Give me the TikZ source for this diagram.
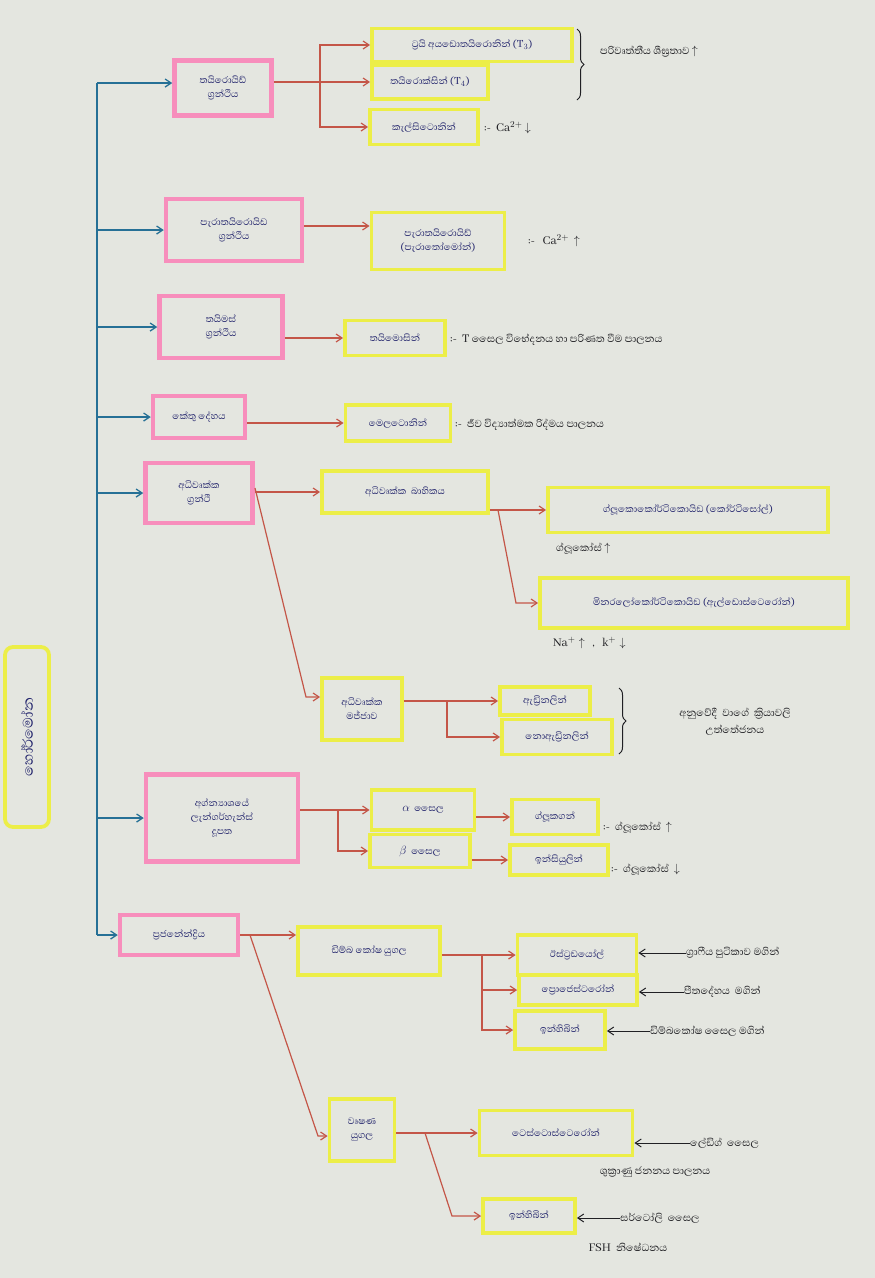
\documentclass[tikz,border=0pt]{standalone}
\usepackage{fontspec}
\setmainfont[Script=Sinhala]{Abhaya Libre}
\usetikzlibrary{arrows.meta,decorations.pathreplacing}
\definecolor{paper}{RGB}{228,230,224}
\definecolor{pinkc}{RGB}{247,142,188}
\definecolor{yelc}{RGB}{236,238,72}
\definecolor{redc}{RGB}{196,86,72}
\definecolor{bluec}{RGB}{38,112,150}
\definecolor{inkc}{RGB}{34,36,108}
\definecolor{notec}{RGB}{32,32,36}
\tikzset{
  pbox/.style={draw=pinkc, line width=4.5pt, fill=paper, align=center, inner sep=2pt, text=inkc, font=\fontsize{12}{14}\selectfont},
  ybox/.style={draw=yelc, line width=3.8pt, fill=paper, align=center, inner sep=2pt, text=inkc, font=\fontsize{12}{14}\selectfont},
  rar/.style={draw=redc, line width=1.2pt, -{Straight Barb[length=6pt,width=8pt]}},
  rln/.style={draw=redc, line width=1.2pt},
  bar/.style={draw=bluec, line width=1.3pt, -{Straight Barb[length=6pt,width=8pt]}},
  karr/.style={draw=notec, line width=1pt, -{Straight Barb[length=6pt,width=8pt]}},
  note/.style={text=notec, font=\fontsize{13}{17}\selectfont, inner sep=0pt, anchor=west},
  notec/.style={text=notec, font=\fontsize{13}{17}\selectfont, inner sep=0pt, align=center},
  brc/.style={draw=notec, line width=1pt, decorate, decoration={brace, amplitude=7pt}}
}
\begin{document}
\begin{tikzpicture}[x=1pt,y=-1pt]
\fill[paper] (0,0) rectangle (875,1278);
\useasboundingbox (0,0) rectangle (875,1278);

% title
\node[ybox, rotate=90, minimum width=180, minimum height=44, rounded corners=8pt, font=\fontsize{18}{20}\selectfont] (title) at (27,737) {හෝර්මෝන};

% level 1 (pink)
\node[pbox, minimum width=97, minimum height=55] (thy) at (223,88) {තයිරොයිඩ්\\ග්‍රන්ථිය};
\node[pbox, minimum width=136, minimum height=62] (pth) at (234,230) {පැරාතයිරොයිඩ\\ග්‍රන්ථිය};
\node[pbox, minimum width=123, minimum height=62] (thm) at (221,327) {තයිමස්\\ග්‍රන්ථිය};
\node[pbox, minimum width=92, minimum height=42] (pin) at (199,417) {කේතු දේහය};
\node[pbox, minimum width=107, minimum height=60] (adr) at (199,493) {අධිවෘක්ක\\ග්‍රන්ථි};
\node[pbox, minimum width=152, minimum height=87] (pan) at (222,818) {අග්න්‍යාශයේ\\ලැන්ගර්හැන්ස්\\දූපත};
\node[pbox, minimum width=118, minimum height=40] (rep) at (179,935) {ප්‍රජනේන්ද්‍රිය};

% blue trunk
\coordinate (trT) at (97,83);
\coordinate (trB) at (97,935);
\draw[draw=bluec, line width=1.3pt] (trT) -- (trB);
\draw[bar] (trT) -- (trT -| thy.west);
\foreach \n in {pth,thm,pin,adr,pan,rep} {\draw[bar] (trT |- \n.west) -- (\n.west);}

% thyroid
\node[ybox, minimum width=200, minimum height=33] (t3) at (472,45) {ට්‍රයි අයඩොතයිරොනින් (T$_3$)};
\node[ybox, minimum width=116, minimum height=34] (t4) at (430,82) {තයිරොක්සින් (T$_4$)};
\node[ybox, minimum width=108, minimum height=35] (cal) at (424,127) {කැල්සිටොනින්};
\coordinate (j1) at (320,82);
\draw[rar] (thy.east |- t4.west) -- (t4.west);
\draw[rar] (j1) |- (t3.west);
\draw[rar] (j1) |- (cal.west);
\draw[brc] (577,29) -- (577,100);
\node[note] (n1) at (600,52) {පරිවෘත්තීය ශීඝ්‍රතාව $\uparrow$};
\node[note] (n2) at (484,128) {:-\ \ Ca$^{2+}$ $\downarrow$};

% parathyroid
\node[ybox, minimum width=133, minimum height=57] (pthh) at (438,241) {පැරාතයිරොයිඩ්\\(පැරාතෝමෝන්)};
\draw[rar] (pth.east |- 0,226) -- (pthh.west |- 0,226);
\node[note] (n3) at (528,241) {:-\ \ \ Ca$^{2+}$ \ $\uparrow$};

% thymus
\node[ybox, minimum width=100, minimum height=35] (thmh) at (395,338) {තයිමොසින්};
\draw[rar] (thm.east |- thmh.west) -- (thmh.west);
\node[note] (n4) at (450,340) {:-\ \ T සෛල විභේදනය හා පරිණත වීම පාලනය};

% pineal
\node[ybox, minimum width=105, minimum height=36] (mel) at (398,423) {මෙලටොනින්};
\draw[rar] (pin.east |- mel.west) -- (mel.west);
\node[note] (n5) at (455,425) {:-\ \ ජීව විද්‍යාත්මක රිද්මය පාලනය};

% adrenal
\node[ybox, minimum width=166, minimum height=42] (ctx) at (405,492) {අධිවෘක්ක \ බාහිකය};
\node[ybox, minimum width=280, minimum height=45] (glc) at (688,510) {ග්ලූකොකෝර්ටිකොයිඩ (කෝර්ටිසෝල්)};
\node[ybox, minimum width=308, minimum height=50] (min) at (694,603) {මිනරලෝකෝර්ටිකොයිඩ (ඇල්ඩොස්ටෙරෝන්)};
\draw[rar] (adr.east |- ctx.west) -- (ctx.west);
\draw[rar] (ctx.east |- glc.west) -- (glc.west);
\coordinate (j3) at (498,510);
\coordinate (j3b) at (516,603);
\draw[rar] (j3) -- (j3b) -- (min.west);
\node[note] (n6) at (556,549) {ග්ලූකෝස් $\uparrow$};
\node[note] (n7) at (553,643) {Na$^+\uparrow$ \ \ ,\ \ \ k$^+\downarrow$};

\node[ybox, minimum width=80, minimum height=62] (med) at (362,709) {අධිවෘක්ක\\මජ්ජාව};
\coordinate (j4a) at (255,488);
\coordinate (j4) at (306,697);
\draw[rar] (j4a) -- (j4) -- (j4 -| med.west);
\node[ybox, minimum width=90, minimum height=28] (adn) at (545,701) {ඇඩ්‍රිනලින්};
\node[ybox, minimum width=110, minimum height=35] (nad) at (557,737) {නොඇඩ්‍රිනලින්};
\coordinate (j5) at (447,701);
\draw[rar] (med.east |- adn.west) -- (adn.west);
\draw[rar] (j5) |- (nad.west);
\draw[brc] (619,688) -- (619,754);
\node[notec] (n8) at (735,722) {අනුවේදී \ වාගේ \ ක්‍රියාවලි\\උත්තේජනය};

% pancreas
\node[ybox, minimum width=103, minimum height=40] (alp) at (423,810) {$\alpha$ \ සෛල};
\node[ybox, minimum width=100, minimum height=33] (bet) at (420,851) {$\beta$ \ සෛල};
\node[ybox, minimum width=86, minimum height=35] (gcg) at (555,817) {ග්ලූකගන්};
\node[ybox, minimum width=98, minimum height=30] (ins) at (559,860) {ඉන්සියුලින්};
\coordinate (j6) at (338,810);
\draw[rar] (pan.east |- alp.west) -- (alp.west);
\draw[rar] (j6) |- (bet.west);
\draw[rar] (alp.east |- gcg.west) -- (gcg.west);
\draw[rar] (bet.east |- ins.west) -- (ins.west);
\node[note] (n9) at (603,828) {:-\ \ ග්ලූකෝස් \ $\uparrow$};
\node[note] (n10) at (611,870) {:-\ \ ග්ලූකෝස් \ $\downarrow$};

% reproductive
\node[ybox, minimum width=142, minimum height=48] (ova) at (369,951) {ඩිම්බ කෝෂ යුගල};
\node[ybox, minimum width=119, minimum height=40] (est) at (577,955) {ඊස්ට්‍රඩයෝල්};
\node[ybox, minimum width=118, minimum height=30] (prg) at (578,990) {ප්‍රොජෙස්ටරෝන්};
\node[ybox, minimum width=90, minimum height=38] (inh1) at (560,1030) {ඉන්හිබින්};
\draw[rar] (rep.east) -- (rep.east -| ova.west);
\coordinate (j7) at (482,955);
\draw[rar] (ova.east |- est.west) -- (est.west);
\draw[rar] (j7) |- (prg.west);
\draw[rar] (j7) |- (inh1.west);
\node[note] (e1) at (686,953) {ග්‍රාෆීය පුටිකාව මගින්};
\node[note] (e2) at (684,992) {පීතදේහය \ මගින්};
\node[note] (e3) at (650,1031) {ඩිම්බකෝෂ සෛල මගින්};
\draw[karr] (e1.west) -- (est.east |- e1.west);
\draw[karr] (e2.west) -- (prg.east |- e2.west);
\draw[karr] (e3.west) -- (inh1.east |- e3.west);

\node[ybox, minimum width=65, minimum height=62] (tes) at (362,1130) {වෘෂණ\\යුගල};
\coordinate (j8a) at (250,935);
\coordinate (j8) at (318,1136);
\draw[rar] (j8a) -- (j8) -- (j8 -| tes.west);
\node[ybox, minimum width=153, minimum height=45] (tst) at (556,1133) {ටෙස්ටොස්ටෙරෝන්};
\node[ybox, minimum width=92, minimum height=34] (inh2) at (529,1216) {ඉන්හිබින්};
\draw[rar] (tes.east |- tst.west) -- (tst.west);
\coordinate (j9) at (425,1133);
\coordinate (j9b) at (452,1216);
\draw[rar] (j9) -- (j9b) -- (inh2.west);
\node[note] (m1) at (690,1143) {ලේඩිග් \ සෛල};
\node[notec] (m2) at (655,1172) {ශුක්‍රාණු ජනනය පාලනය};
\node[note] (m3) at (620,1218) {සර්ටෝලි \ සෛල};
\node[notec] (m4) at (628,1247) {FSH \ නිෂේධනය};
\draw[karr] (m1.west) -- (tst.east |- m1.west);
\draw[karr] (m3.west) -- (inh2.east |- m3.west);
\end{tikzpicture}
\end{document}
